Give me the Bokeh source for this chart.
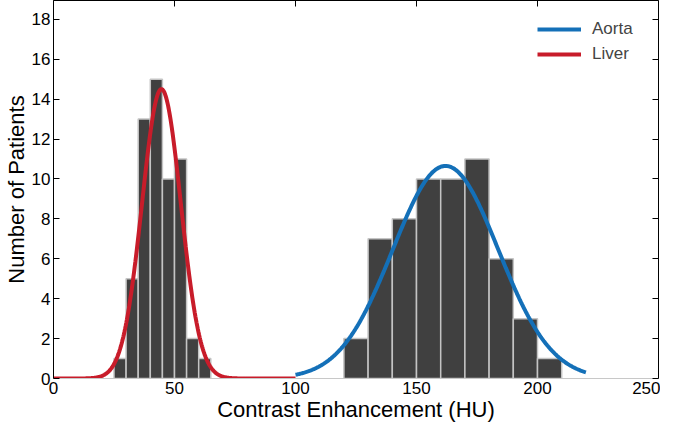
import numpy as np
from bokeh.plotting import figure
from bokeh.models import LinearAxis, FixedTicker, Range1d, Legend, LegendItem
from bokeh.embed import file_html
from bokeh.resources import INLINE

# Histogram data
liver_edges = [25, 30, 35, 40, 45, 50, 55, 60, 65]
liver_counts = [1, 5, 13, 15, 10, 11, 2, 1]
aorta_edges = [120, 130, 140, 150, 160, 170, 180, 190, 200, 210]
aorta_counts = [2, 7, 8, 10, 10, 11, 6, 3, 1]

# Fitted normal curves (parameters)
liver_mean, liver_sd, liver_peak = 44.6, 8.0, 14.5
liver_range = (0, 100)
aorta_mean, aorta_sd, aorta_peak = 162.0, 21.8, 10.65
aorta_range = (100, 220)

x_ticks = [0, 50, 100, 150, 200, 250]
y_ticks = [0, 2, 4, 6, 8, 10, 12, 14, 16, 18]

FONT = "Liberation Sans"

p = figure(width=660, height=424, output_backend="svg", toolbar_location=None,
           x_range=Range1d(0, 250), y_range=Range1d(0, 18.94),
           min_border_left=0, min_border_right=2, min_border_top=0, min_border_bottom=0)
p.outline_line_color = None
p.xgrid.visible = False
p.ygrid.visible = False
p.background_fill_color = "white"

# bars
p.quad(left=liver_edges[:-1], right=liver_edges[1:], top=liver_counts, bottom=0,
       fill_color="#404040", line_color="#c4c4c4", line_width=1.5)
p.quad(left=aorta_edges[:-1], right=aorta_edges[1:], top=aorta_counts, bottom=0,
       fill_color="#404040", line_color="#c4c4c4", line_width=1.5)

# curves
xl = np.linspace(liver_range[0], liver_range[1], 400)
yl = liver_peak * np.exp(-0.5 * ((xl - liver_mean) / liver_sd) ** 2)
xa = np.linspace(aorta_range[0], aorta_range[1], 400)
ya = aorta_peak * np.exp(-0.5 * ((xa - aorta_mean) / aorta_sd) ** 2)
ra = p.line(xa, ya, line_color="#1470b8", line_width=4)
rl = p.line(xl, yl, line_color="#c81c2a", line_width=4)

def style(ax, labels=True):
    ax.axis_line_color = "black"
    ax.axis_line_width = 1
    ax.major_tick_line_color = "black"
    ax.major_tick_in = 6
    ax.major_tick_out = 0
    ax.minor_tick_line_color = None
    ax.major_label_text_font = FONT
    ax.major_label_text_font_size = "17px" if labels else "1px"
    ax.major_label_text_color = "black" if labels else None
    ax.axis_label_text_font = FONT
    ax.axis_label_text_font_size = "22px"
    ax.axis_label_text_font_style = "normal"
    ax.axis_label_text_color = "black"

xa_ = p.xaxis[0]
style(xa_)
xa_.ticker = FixedTicker(ticks=x_ticks)
xa_.axis_line_color = "#c8c8c8"
xa_.major_tick_in = 0
xa_.major_label_standoff = 3
xa_.axis_label = "Contrast Enhancement (HU)"
xa_.axis_label_standoff = 0

ya_ = p.yaxis[0]
style(ya_)
ya_.ticker = FixedTicker(ticks=y_ticks)
ya_.major_label_standoff = 3
ya_.axis_label = "Number of Patients"
ya_.axis_label_standoff = 0

top = LinearAxis(ticker=FixedTicker(ticks=x_ticks))
style(top, labels=False)
top.major_label_standoff = 0
p.add_layout(top, "above")

right = LinearAxis(ticker=FixedTicker(ticks=y_ticks))
style(right, labels=False)
right.major_label_standoff = 0
p.add_layout(right, "right")

legend = Legend(items=[LegendItem(label="Aorta", renderers=[ra]),
                       LegendItem(label="Liver", renderers=[rl])],
                location="top_right", margin=19, padding=0,
                glyph_width=44, glyph_height=20, label_height=20, spacing=5,
                label_standoff=11, label_width=47,
                label_text_font=FONT, label_text_font_size="17px",
                background_fill_alpha=0, border_line_alpha=0)
p.add_layout(legend)

open("out.html", "w").write(file_html(p, INLINE))
